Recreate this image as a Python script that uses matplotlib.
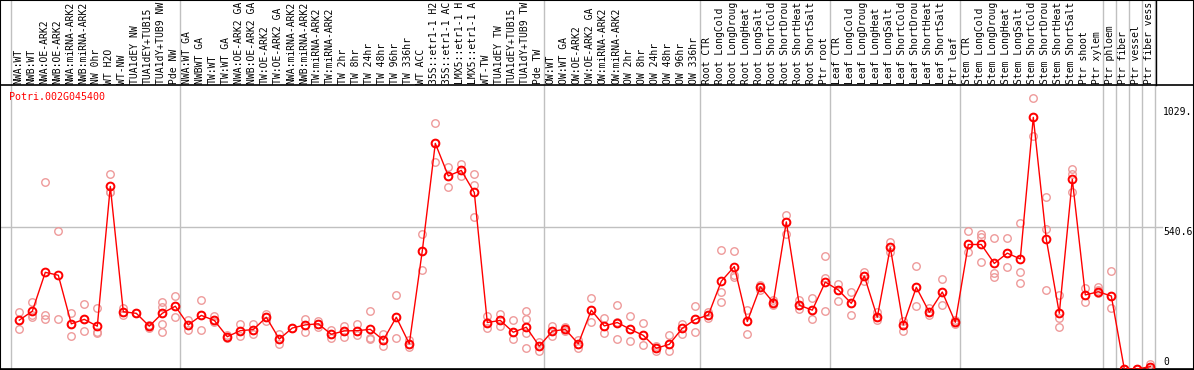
import matplotlib
matplotlib.use("Agg")
import matplotlib.pyplot as plt
from matplotlib.patches import Rectangle

gene_id = "Potri.002G045400"

sample_labels = [
    "NWA:WT", "NWB:WT", "NWA:OE-ARK2", "NWB:OE-ARK2", "NWA:miRNA-ARK2",
    "NWB:miRNA-ARK2", "NW 0hr", "WT H2O", "WT-NW", "TUA1dEY NW",
    "TUA1dEY+TUB15", "TUA1dY+TUB9 NW", "Pde NW",
    "NWA:WT GA", "NWBWT GA", "TW:WT", "TW:WT GA", "NWA:OE-ARK2 GA",
    "NWB:OE-ARK2 GA", "TW:OE-ARK2", "TW:OE-ARK2 GA", "NWA:miRNA-ARK2 GA",
    "NWB:miRNA-ARK2 GA", "TW:miRNA-ARK2", "TW:miRNA-ARK2", "TW 2hr", "TW 8hr",
    "TW 24hr", "TW 48hr", "TW 96hr", "TW 336hr", "WT ACC", "35S::etr1-1 H2O",
    "35S::etr1-1 ACC", "LMX5::etr1-1 H2O", "LMX5::etr1-1 ACC", "WT-TW",
    "TUA1dEY TW", "TUA1dEY+TUB15", "TUA1dY+TUB9 TW", "Pde TW",
    "OW:WT", "OW:WT GA", "OW:OE-ARK2", "OW:OE-ARK2 GA", "OW:miRNA-ARK2",
    "OW:miRNA-ARK2", "OW 2hr", "OW 8hr", "OW 24hr", "OW 48hr", "OW 96hr",
    "OW 336hr",
    "Root CTR", "Root LongCold", "Root LongDrought", "Root LongHeat",
    "Root LongSalt", "Root ShortCold", "Root ShortDrought", "Root ShortHeat",
    "Root ShortSalt", "Ptr root",
    "Leaf CTR", "Leaf LongCold", "Leaf LongDrought", "Leaf LongHeat",
    "Leaf LongSalt", "Leaf ShortCold", "Leaf ShortDrought", "Leaf ShortHeat",
    "Leaf ShortSalt", "Ptr leaf",
    "Stem CTR", "Stem LongCold", "Stem LongDrought", "Stem LongHeat",
    "Stem LongSalt", "Stem ShortCold", "Stem ShortDrought", "Stem ShortHeat",
    "Stem ShortSalt", "Ptr shoot", "Ptr xylem",
    "Ptr phloem", "Ptr fiber", "Ptr vessel", "Ptr fiber vessel",
]

mean_values = [
    186, 220, 368, 357, 172, 189, 163, 695, 218, 212, 163, 212, 239,
    168, 204, 185, 123, 146, 150, 197, 114, 156, 168, 172, 132, 145, 146,
    151, 110, 197, 96, 450, 859, 735, 756, 672, 177, 185, 140, 159, 87,
    144, 151, 96, 224, 164, 177, 151, 128, 79, 94, 155, 189,
    205, 334, 390, 181, 313, 253, 560, 243, 224, 331,
    301, 250, 354, 197, 463, 168, 311, 216, 293, 178,
    474, 474, 402, 441, 419, 958, 494, 212, 722, 282, 294,
    278, 0, 0, 9,
]

replicate_values = [
    [216, 187, 151], [254, 206, 197], [711, 206, 189], [524, 189],
    [212, 171, 124], [246, 189, 146], [231, 142, 136], [741, 673, 673],
    [231, 218, 206], [212, 212], [168, 162, 157],
    [256, 237, 212, 171, 141], [278, 239, 197],
    [187, 168, 148], [263, 204, 147], [200, 185, 180], [129, 123, 119],
    [171, 146, 126], [171, 150, 132], [208, 197, 183], [132, 114, 94],
    [156, 156], [190, 168, 141], [184, 171, 159], [148, 132, 117],
    [164, 145, 121], [171, 146, 129], [220, 117, 113], [133, 110, 89],
    [280, 197, 117], [110, 95, 82], [513, 449, 376], [935, 859, 787],
    [769, 735, 692], [779, 756, 736], [741, 701, 577], [202, 178, 157],
    [211, 185, 162], [185, 140, 113], [221, 189, 159, 136, 79],
    [104, 86, 69],
    [164, 143, 127], [161, 151, 145], [110, 95, 81], [269, 223, 180],
    [193, 164, 136], [244, 178, 113], [202, 151, 107], [176, 128, 91],
    [89, 79, 69], [129, 94, 70], [173, 155, 132], [240, 189, 140],
    [218, 206, 193], [452, 292, 254], [448, 358, 352], [225, 181, 133],
    [320, 312, 299], [263, 254, 244], [586, 560, 513], [263, 242, 227],
    [272, 223, 190], [429, 348, 221],
    [324, 301, 259], [293, 250, 206], [371, 354, 336], [216, 197, 187],
    [485, 463, 447], [184, 168, 145], [392, 311, 240], [234, 216, 206],
    [343, 293, 244], [185, 179, 171],
    [525, 475, 447], [515, 504, 406], [497, 364, 349], [497, 440, 390],
    [555, 368, 326], [1030, 958, 888], [654, 533, 299], [282, 193, 161],
    [761, 741, 673], [310, 282, 254], [312, 302, 288],
    [373, 278, 234], [0, 0, 0], [0, 0, 0], [18, 9, 0],
]

# first sample index of each group (plus the end)
group_starts = [0, 13, 41, 53, 63, 73, 84, 85, 86, 87, 88]

y_max = 1081.2
y_labels = ["1029.", "540.6", "0"]

W, H = 1194, 370
fig = plt.figure(figsize=(W / 100, H / 100), dpi=100)
ax = fig.add_axes([0, 1 / H, 1, 284 / H])

mono = "DejaVu Sans Mono"
red = "#ff0000"
pink = "#ee9a9a"
grey = "#c0c0c0"

x = list(range(len(mean_values)))

# replicate points
for i, reps in enumerate(replicate_values):
    ax.plot([i] * len(reps), reps, "o", ms=5.4, mfc="none", mec=pink,
            mew=1.0, zorder=3, clip_on=True)

ax.plot(x, mean_values, "-", color=red, lw=1.0, zorder=4)
ax.plot(x, mean_values, "o", ms=5.6, mfc="none", mec=red, mew=1.4, zorder=5)

ax.set_xlim(-19.3 / 13, (W - 19.3) / 13)
ax.set_ylim(0, y_max)
ax.set_xticks([])
ax.set_yticks([])
for s in ax.spines.values():
    s.set_color("black")
    s.set_linewidth(1.2)

# group separators, running up through the label area
trans = ax.get_xaxis_transform()
top = 1 + 85 / 284
for g in group_starts:
    ax.plot([g - 0.64, g - 0.64], [0, top], color=grey, lw=1.0,
            transform=trans, clip_on=False, zorder=1)
ax.plot([88 - 0.6, 88 - 0.6], [1, top], color="black", lw=1.0,
        transform=trans, clip_on=False, zorder=2)

ax.axhline(y_max / 2, xmax=1162 / W, color=grey, lw=1.0, zorder=1)

# rotated sample labels above the plot (the header only fits 14 chars)
for i, lab in enumerate(sample_labels):
    ax.text(i - 0.1, 1 + 1.5 / 284, lab[:14], rotation=90, ha="center",
            va="bottom", family=mono, fontsize=7.0, transform=trans,
            clip_on=False)

ax.text(9 / W, (369 - 97) / 284, gene_id, color=red, family=mono,
        fontsize=7.2, ha="left", va="center", transform=ax.transAxes)

for lab, yp in zip(y_labels, [112, 232, 362]):
    ax.text(1163 / W, (369 - yp) / 284, lab, family=mono, fontsize=7.0,
            ha="left", va="center", transform=ax.transAxes)

fig.patches.append(Rectangle((0, 0), 1, 1, transform=fig.transFigure,
                             fill=False, ec="black", lw=1.5))

fig.savefig("out.png", dpi=100)
